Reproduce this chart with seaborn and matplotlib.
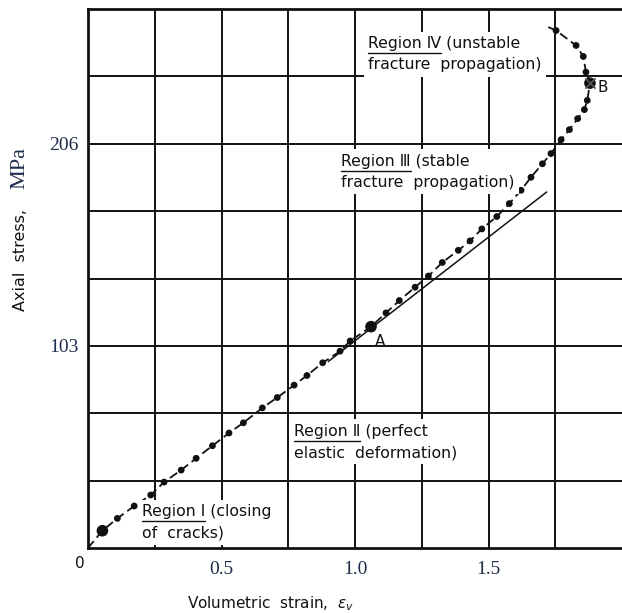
import matplotlib
matplotlib.use("Agg")
import matplotlib.pyplot as plt
import seaborn as sns
import numpy as np

# Volumetric strain / axial stress readings along the loading path
strain = [0.0, 0.054, 0.110, 0.173, 0.235, 0.285, 0.349, 0.405, 0.466, 0.528,
          0.582, 0.653, 0.709, 0.772, 0.820, 0.879, 0.944, 0.982, 1.060,
          1.116, 1.166, 1.225, 1.275, 1.327, 1.387, 1.431, 1.475, 1.531,
          1.578, 1.622, 1.659, 1.702, 1.734, 1.772, 1.803, 1.834, 1.859,
          1.870, 1.880, 1.865, 1.855, 1.828, 1.753, 1.718]
stress = [0.0, 8.8, 15.1, 21.4, 27.0, 33.6, 39.7, 45.7, 52.1, 58.6,
          63.8, 71.4, 76.7, 83.0, 87.9, 94.4, 100.3, 105.5, 112.8,
          119.8, 126.1, 132.9, 138.6, 145.5, 151.7, 156.5, 162.6, 168.9,
          175.5, 182.3, 188.9, 195.8, 201.0, 208.1, 213.2, 218.8, 223.4,
          228.1, 236.9, 242.5, 250.5, 256.1, 263.7, 265.8]
# indices of the measured dots (first and last entries are line ends only)
dot_idx = list(range(1, len(strain) - 1))

# linear elastic reference line
elastic_strain = [0.90, 1.718]
elastic_slope = 105.6

# key points
point_names = ["", "A", "B"]
point_strain = [0.054, 1.060, 1.880]
point_stress = [8.8, 112.8, 236.9]

x_grid = [0.25 * i for i in range(9)]
y_step = 103 / 3
y_grid = [y_step * i for i in range(9)]
x_ticks = [0.5, 1.0, 1.5]
x_ticklabels = ["0.5", "1.0", "1.5"]
y_ticks = [103, 206]
y_ticklabels = ["103", "206"]

region_labels = [
    ("Region \u2160", " (closing\nof  cracks)", 0.202, 22.4),
    ("Region \u2161", " (perfect\nelastic  deformation)", 0.772, 63.4),
    ("Region \u2162", " (stable\nfracture  propagation)", 0.948, 201.0),
    ("Region \u2163", " (unstable\nfracture  propagation)", 1.049, 261.0),
]

sns.set_style("white")
plt.rcParams["font.family"] = ["DejaVu Sans"]

W, H = 622, 613
fig = plt.figure(figsize=(W / 100, H / 100), dpi=100)
ax = fig.add_axes([88 / W, 65 / H, (622 - 88) / W, (604 - 65) / H])

ax.set_xlim(0, 2.0)
ax.set_ylim(0, 8 * y_step)

# grid
for gx in x_grid[1:-1]:
    ax.axvline(gx, color="#111111", lw=1.4, zorder=1)
for gy in y_grid[1:-1]:
    ax.axhline(gy, color="#111111", lw=1.4, zorder=1)
for side in ["left", "bottom", "top"]:
    ax.spines[side].set_linewidth(2.0)
    ax.spines[side].set_color("#111111")
ax.spines["right"].set_visible(False)

# elastic line
ex = np.array(elastic_strain)
sns.lineplot(x=ex, y=elastic_slope * ex, ax=ax, color="#111111", lw=1.1, zorder=3)

# dashed test curve
sns.lineplot(x=strain, y=stress, ax=ax, sort=False, estimator=None,
             color="#111111", lw=1.3, dashes=False, zorder=4)
ax.lines[-1].set_dashes([5, 2.5])
sns.scatterplot(x=[strain[i] for i in dot_idx], y=[stress[i] for i in dot_idx],
                ax=ax, color="#111111", s=24, edgecolor="none", zorder=5)
sns.scatterplot(x=point_strain, y=point_stress, ax=ax, color="#111111",
                s=70, edgecolor="none", zorder=6)
sns.scatterplot(x=point_strain[2:], y=point_stress[2:], ax=ax, marker="x",
                color="#555555", s=55, linewidth=1.2, zorder=7)

ax.text(point_strain[1] + 0.016, point_stress[1] - 4, point_names[1],
        fontsize=11, ha="left", va="top", color="#111111", zorder=8)
ax.text(point_strain[2] + 0.030, point_stress[2] - 2, point_names[2],
        fontsize=11, ha="left", va="center", color="#111111", zorder=8)

# region annotations
fig.canvas.draw()
renderer = fig.canvas.get_renderer()
label_kw = dict(fontsize=11.3, color="#111111", va="top", ha="left",
                linespacing=1.55, zorder=9)
for head, tail, lx, ly in region_labels:
    t = ax.text(lx, ly, head + tail, **label_kw,
                bbox=dict(facecolor="white", edgecolor="none", pad=3))
    probe = ax.text(lx, ly, head, **label_kw)
    bb = probe.get_window_extent(renderer)
    probe.remove()
    inv = ax.transData.inverted()
    (x0, y0), (x1, _) = inv.transform([(bb.x0, bb.y0 - 2), (bb.x1, bb.y0 - 2)])
    ax.plot([x0, x1], [y0, y0], color="#111111", lw=1.0, zorder=10)

# ticks
tick_color = "#1d2c4a"
ax.set_xticks(x_ticks)
ax.set_xticklabels(x_ticklabels, fontfamily="Liberation Serif", fontsize=14,
                   color=tick_color)
ax.set_yticks(y_ticks)
ax.set_yticklabels(y_ticklabels, fontfamily="Liberation Serif", fontsize=14,
                   color=tick_color)
ax.tick_params(axis="x", length=0, pad=9)
ax.tick_params(axis="y", length=0, pad=7)
fig.text(80 / W, 1 - 563 / H, "0", fontsize=11, ha="center", va="center",
         color="#111111")

# axis titles
fig.text(271 / W, 1 - 604 / H, "Volumetric  strain,  $\\epsilon_{v}$",
         fontsize=11, ha="center", va="center", color="#111111")
fig.text(21 / W, 1 - 260 / H, "Axial  stress,", fontsize=11.5, rotation=90,
         ha="center", va="center", color="#111111")
fig.text(20 / W, 1 - 168 / H, "MPa", fontsize=16, rotation=90,
         fontfamily="Liberation Serif", ha="center", va="center",
         color=tick_color)

fig.savefig("out.png", dpi=100, facecolor="white")
